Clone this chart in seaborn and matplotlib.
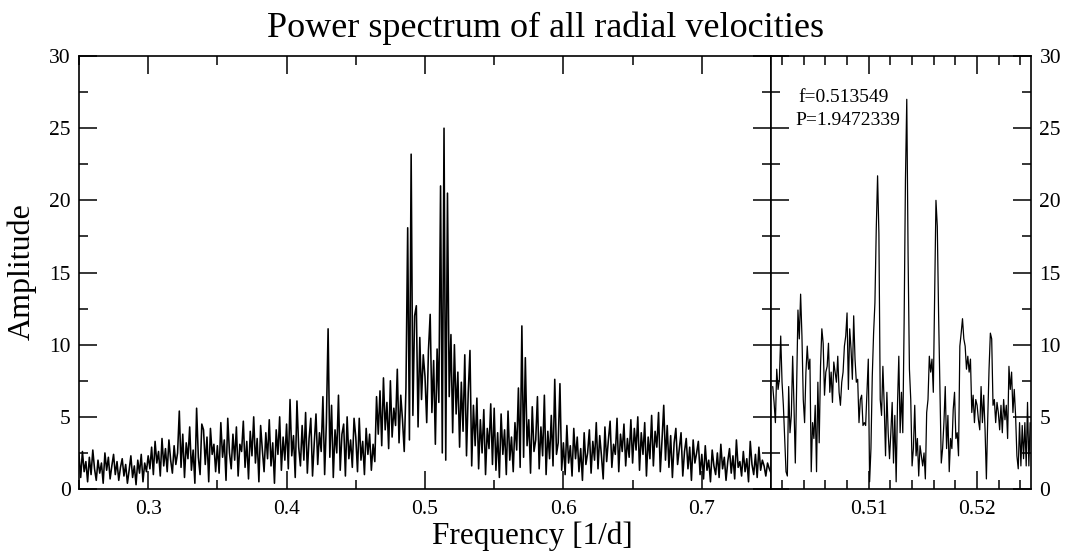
import numpy as np
import pandas as pd
import matplotlib
matplotlib.use("Agg")
import matplotlib.pyplot as plt
from matplotlib.ticker import MultipleLocator
import seaborn as sns

# ---------------- data ----------------
# full spectrum, frequency grid 0.25 .. 0.75 (step 0.00125)
amp_a = [2.4,0.8,2.6,1.2,1.9,0.5,2.2,1.0,2.7,1.4,0.6,2.0,1.1,1.8,0.4,2.5,1.3,2.2,0.7,1.6,
         2.4,1.0,1.9,0.6,1.5,2.1,0.9,1.7,0.4,1.3,2.3,0.8,1.6,0.3,2.0,1.1,2.4,0.5,1.8,1.2]
amp_b = [2.3,1.4,2.9,1.0,3.3,1.8,2.6,0.9,3.5,1.6,2.8,1.2,3.4,2.0,1.1,3.0,1.7,2.5,5.4,1.5,
         3.8,0.8,3.2,2.1,4.3,1.3,2.7,0.4,5.6,2.2,1.0,4.5,4.1,1.7,3.6,0.5,4.2,2.4,3.1,1.2]
amp_c = [3.0,1.1,4.6,2.2,3.4,0.6,4.9,2.5,1.4,3.8,2.0,4.3,0.9,3.1,2.6,4.7,1.5,3.3,0.7,4.0,
         2.3,5.0,1.8,3.5,0.5,4.4,2.7,1.2,3.9,2.1,4.8,1.6,3.2,0.4,4.1,2.4,5.0,1.3,3.6,2.0]
amp_d = [4.5,1.4,6.2,2.3,3.7,0.8,6.1,2.9,1.6,4.4,2.0,5.3,1.1,3.5,4.9,0.9,3.2,5.2,1.7,3.9,
         2.6,6.4,1.0,4.6,11.1,2.2,5.8,0.8,4.1,2.5,6.5,1.3,3.8,4.5,0.9,5.0,2.1,3.4,1.5,4.9]
amp_e = [3.6,1.2,4.9,2.0,3.3,1.0,4.2,2.4,3.8,1.3,3.1,1.9,6.4,3.8,6.8,3.0,7.7,4.1,6.0,2.8,
         7.5,3.6,5.6,4.4,8.3,3.2,6.5,4.8,2.6,7.0,18.1,3.4,23.2,5.1,12.0,12.7,4.3,10.5,6.2,9.3]
amp_f = [7.8,4.6,9.6,12.1,5.3,8.9,3.1,9.7,6.0,21.0,2.5,25.0,2.0,20.5,6.4,10.7,3.9,10.0,5.2,8.1,
         2.9,7.4,4.0,9.3,2.3,6.7,9.6,1.6,5.8,3.0,6.3,1.4,4.8,2.5,5.5,1.0,4.2,2.8,5.9,1.7]
amp_g = [5.6,1.3,3.9,0.8,5.2,2.4,4.1,1.0,5.4,2.0,3.6,1.2,4.6,2.7,7.0,1.5,11.3,2.2,9.1,3.0,
         4.8,1.1,5.7,2.6,3.4,6.4,1.4,4.3,2.3,6.5,1.0,4.0,2.1,5.1,1.6,7.6,2.4,3.2,7.3,1.3]
amp_h = [3.2,1.0,4.4,1.8,3.0,0.9,4.2,2.1,3.6,1.2,2.8,0.6,3.9,1.7,2.5,4.1,1.1,3.3,2.0,4.6,
         1.4,3.7,2.3,0.7,4.3,1.9,3.4,4.7,1.5,3.1,2.4,4.9,1.2,3.8,2.6,4.5,1.6,3.5,2.2,4.8]
amp_i = [1.8,4.2,2.7,5.0,1.3,3.9,2.4,4.6,0.9,3.6,2.1,5.1,1.6,4.0,2.9,5.3,1.2,3.4,5.8,2.0,
         4.4,1.5,3.7,0.8,3.2,4.2,1.7,2.8,3.9,0.9,2.6,3.5,1.4,2.9,0.6,3.4,1.8,2.5,3.3,1.0]
amp_j = [2.4,0.7,3.0,1.3,2.0,0.5,2.7,1.6,1.0,2.5,0.8,3.1,1.4,2.2,0.6,1.9,2.8,1.1,2.3,0.7,
         3.4,1.5,1.9,0.9,2.6,1.2,2.1,0.5,3.3,1.7,1.0,2.4,0.8,2.9,1.3,2.0,1.6,0.9,1.8,1.4,1.1]
full_start, full_stop = 0.25, 0.75

# zoomed spectrum around the main peak
zoom_amp = [7.1,6.0,4.6,8.3,6.9,7.6,10.6,7.4,5.8,3.5,1.2,0.9,7.1,3.9,5.1,9.2,5.8,1.8,6.9,12.4,
            10.4,13.5,10.6,6.2,4.6,8.1,9.9,8.3,9.0,1.2,4.6,3.5,5.8,1.2,7.4,3.2,8.5,11.1,10.1,6.5,
            8.1,8.5,10.1,6.7,8.1,6.0,8.8,8.1,7.4,9.2,6.7,5.8,7.4,8.1,9.9,10.6,12.2,6.9,11.1,9.7,
            7.6,12.0,9.0,7.4,7.6,4.6,6.2,6.5,4.4,4.6,4.4,6.7,9.0,0.5,2.8,7.8,10.8,12.9,18.0,21.7,
            17.7,6.2,5.1,8.5,5.8,2.3,6.7,3.9,2.1,3.9,6.0,1.8,5.1,0.5,5.8,9.2,3.9,6.7,3.9,11.5,
            21.4,27.0,16.1,8.3,6.2,1.6,2.8,5.8,2.3,3.5,0.9,3.0,2.3,1.6,2.5,0.7,5.3,6.2,9.2,8.1,
            9.0,6.7,13.1,20.0,18.2,12.0,6.7,1.8,2.8,4.6,7.1,2.8,5.1,1.2,3.5,2.8,5.5,6.7,3.5,3.9,
            2.3,9.9,10.8,11.8,10.4,9.9,8.3,9.2,8.1,9.0,5.3,6.5,4.6,6.2,5.8,4.8,4.1,7.1,4.6,6.5,
            4.1,0.7,4.8,8.3,10.8,10.4,5.8,6.2,4.6,6.0,5.3,4.1,5.8,3.9,6.2,4.8,5.8,3.5,8.5,6.9,
            8.1,5.3,6.9,5.1,2.3,1.4,4.6,1.6,4.4,2.1,4.6,1.6,6.0,1.6,4.6]
zoom_start, zoom_stop = 0.50116, 0.52492

title = "Power spectrum of all radial velocities"
xlabel = "Frequency [1/d]"
ylabel = "Amplitude"
note_f = "f=0.513549"
note_p = "P=1.9472339"

# ---------------- build tables ----------------
full_amp = amp_a + amp_b + amp_c + amp_d + amp_e + amp_f + amp_g + amp_h + amp_i + amp_j
df_full = pd.DataFrame({"freq": np.linspace(full_start, full_stop, len(full_amp)),
                        "amp": full_amp})
df_zoom = pd.DataFrame({"freq": np.linspace(zoom_start, zoom_stop, len(zoom_amp)),
                        "amp": zoom_amp})

# ---------------- style ----------------
sns.set_style("ticks")
plt.rcParams["font.family"] = ["Liberation Serif", "DejaVu Serif"]
for key in ("text.color", "axes.labelcolor", "xtick.color", "ytick.color",
            "axes.edgecolor", "xtick.labelcolor", "ytick.labelcolor"):
    plt.rcParams[key] = "black"

fig = plt.figure(figsize=(10.67, 5.54), dpi=100)
ax1 = fig.add_axes([0.0740, 0.1173, 0.6486, 0.7816])
ax2 = fig.add_axes([0.7226, 0.1173, 0.2437, 0.7816])

sns.lineplot(data=df_full, x="freq", y="amp", ax=ax1, color="black",
             linewidth=1.15, estimator=None)
sns.lineplot(data=df_zoom, x="freq", y="amp", ax=ax2, color="black",
             linewidth=0.9, estimator=None)

ax1.set_xlim(0.25, 0.75)
ax2.set_xlim(0.501, 0.525)
for ax in (ax1, ax2):
    ax.set_ylim(0, 30)
    ax.set_xlabel("")
    ax.set_ylabel("")
    ax.yaxis.set_major_locator(MultipleLocator(5))
    ax.yaxis.set_minor_locator(MultipleLocator(2.5))
    ax.tick_params(which="both", direction="in", top=True, bottom=True,
                   left=True, right=True, width=1.1, labelsize=15.5,
                   colors="black")
    ax.tick_params(axis="x", which="both", pad=8)
    ax.tick_params(axis="y", which="both", pad=6)
    ax.tick_params(which="major", length=13)
    ax.tick_params(which="minor", length=6.5)
    for s in ax.spines.values():
        s.set_linewidth(1.2)
        s.set_color("black")
        s.set_visible(True)

ax1.xaxis.set_major_locator(MultipleLocator(0.1))
ax1.xaxis.set_minor_locator(MultipleLocator(0.05))
ax2.xaxis.set_major_locator(MultipleLocator(0.01))
ax2.xaxis.set_minor_locator(MultipleLocator(0.002))
ax2.tick_params(axis="y", labelleft=False, labelright=True)

ax2.text(0.105, 0.905, note_f, transform=ax2.transAxes, ha="left", va="center",
         fontsize=14)
ax2.text(0.092, 0.852, note_p, transform=ax2.transAxes, ha="left", va="center",
         fontsize=14)

fig.text(0.511, 0.949, title, ha="center", va="center", fontsize=26)
fig.text(0.499, 0.018, xlabel, ha="center", va="baseline", fontsize=22.5)
fig.text(0.021, 0.509, ylabel, ha="center", va="center", rotation=90, fontsize=23)

fig.savefig("out.png", dpi=100)
